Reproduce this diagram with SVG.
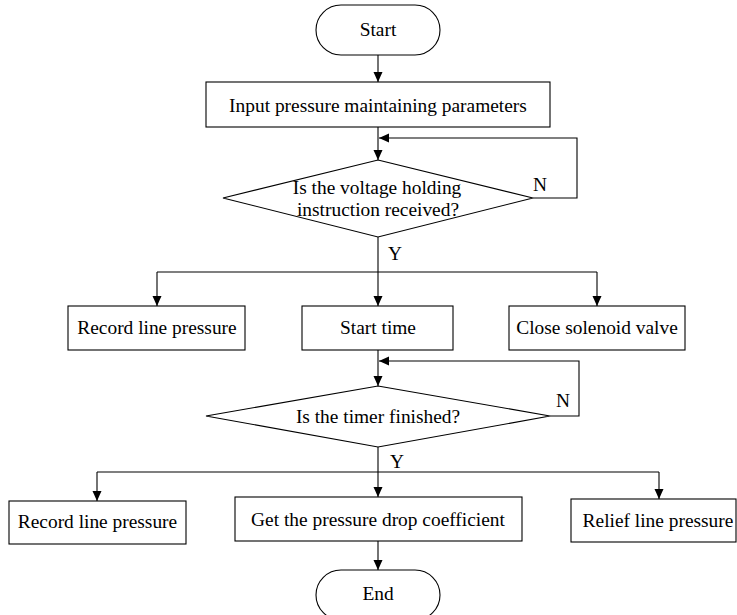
<svg xmlns="http://www.w3.org/2000/svg" width="737" height="615" viewBox="0 0 737 615">
<style>
.shape{fill:#fff;stroke:#000;stroke-width:1.1}
.line{fill:none;stroke:#000;stroke-width:1.1}
text{font-family:"Liberation Serif","Times New Roman",serif;font-size:19.4px;fill:#000}
.c{text-anchor:middle}
</style>
<defs>
<marker id="arr" markerUnits="userSpaceOnUse" markerWidth="12" markerHeight="12" viewBox="0 0 12 12" refX="11" refY="6" orient="auto">
<path d="M1,1.5 L11,6 L1,10.5 Z" fill="#000"/>
</marker>
</defs>
<rect width="737" height="615" fill="#fff"/>
<g id="connectors">
<line class="line" x1="378" y1="55" x2="378" y2="82" marker-end="url(#arr)"/>
<line class="line" x1="378" y1="127" x2="378" y2="160" marker-end="url(#arr)"/>
<polyline class="line" points="533,198 577,198 577,138 379,138" marker-end="url(#arr)"/>
<line class="line" x1="378" y1="237" x2="378" y2="306" marker-end="url(#arr)"/>
<line class="line" x1="157" y1="272" x2="597" y2="272"/>
<line class="line" x1="157" y1="272" x2="157" y2="306" marker-end="url(#arr)"/>
<line class="line" x1="597" y1="272" x2="597" y2="306" marker-end="url(#arr)"/>
<line class="line" x1="378" y1="350" x2="378" y2="386" marker-end="url(#arr)"/>
<polyline class="line" points="550,416 579,416 579,361 379,361" marker-end="url(#arr)"/>
<line class="line" x1="378" y1="447" x2="378" y2="497" marker-end="url(#arr)"/>
<line class="line" x1="97" y1="472" x2="659" y2="472"/>
<line class="line" x1="97" y1="472" x2="97" y2="501" marker-end="url(#arr)"/>
<line class="line" x1="659" y1="472" x2="659" y2="499" marker-end="url(#arr)"/>
<line class="line" x1="378" y1="541" x2="378" y2="570" marker-end="url(#arr)"/>
<text x="533" y="191">N</text>
<text x="388" y="260">Y</text>
<text x="556" y="407">N</text>
<text x="390" y="468">Y</text>
</g>
<g id="start">
<rect class="shape" x="316" y="5" width="124" height="50" rx="25" ry="25"/>
<text class="c" x="378" y="36">Start</text>
</g>
<g id="input">
<rect class="shape" x="206" y="82" width="344" height="45"/>
<text class="c" x="378" y="112">Input pressure maintaining parameters</text>
</g>
<g id="decision1">
<polygon class="shape" points="378,160 533,198 378,237 223,198"/>
<text class="c" x="377" y="194">Is the voltage holding</text>
<text class="c" x="378" y="216">instruction received?</text>
</g>
<g id="record1">
<rect class="shape" x="68" y="306" width="177" height="44"/>
<text class="c" x="157" y="334">Record line pressure</text>
</g>
<g id="starttime">
<rect class="shape" x="302" y="306" width="151" height="44"/>
<text class="c" x="378" y="334">Start time</text>
</g>
<g id="close">
<rect class="shape" x="509" y="306" width="176" height="44"/>
<text class="c" x="597" y="334">Close solenoid valve</text>
</g>
<g id="decision2">
<polygon class="shape" points="378,386 550,416 378,447 206,416"/>
<text class="c" x="378" y="423">Is the timer finished?</text>
</g>
<g id="record2">
<rect class="shape" x="9" y="501" width="177" height="43"/>
<text class="c" x="97.5" y="528">Record line pressure</text>
</g>
<g id="coef">
<rect class="shape" x="235" y="497" width="287" height="44"/>
<text class="c" x="378" y="526">Get the pressure drop coefficient</text>
</g>
<g id="relief">
<rect class="shape" x="571" y="499" width="165" height="43"/>
<text class="c" x="658" y="527">Relief line pressure</text>
</g>
<g id="end">
<rect class="shape" x="316" y="570" width="124" height="50" rx="25" ry="25"/>
<text class="c" x="378" y="600">End</text>
</g>
</svg>
